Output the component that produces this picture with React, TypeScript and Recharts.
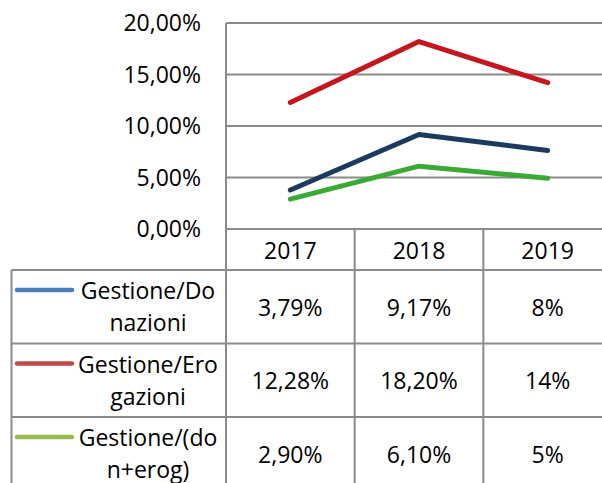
import React from 'react';
import { LineChart, Line, XAxis, YAxis, CartesianGrid } from 'recharts';

const years = ['2017', '2018', '2019'];
const donazioni = [3.79, 9.17, 7.63];
const erogazioni = [12.28, 18.2, 14.2];
const donErog = [2.9, 6.1, 4.93];
const donazioniLabels = ['3,79%', '9,17%', '8%'];
const erogazioniLabels = ['12,28%', '18,20%', '14%'];
const donErogLabels = ['2,90%', '6,10%', '5%'];
const yTicks = [0, 5, 10, 15, 20];

const series = [
  { key: 'donazioni', name: ['Gestione/Do', 'nazioni'], color: '#1b3a5e', legendColor: '#4a7ebb', labels: donazioniLabels },
  { key: 'erogazioni', name: ['Gestione/Ero', 'gazioni'], color: '#c4161c', legendColor: '#be4b48', labels: erogazioniLabels },
  { key: 'donErog', name: ['Gestione/(do', 'n+erog)'], color: '#3aaa35', legendColor: '#98b954', labels: donErogLabels },
];

const data = years.map((year, i) => ({
  year,
  donazioni: donazioni[i],
  erogazioni: erogazioni[i],
  donErog: donErog[i],
}));

const FONT = "'Open Sans', sans-serif";
const FS = 23;
const GRID = '#8a8a8a';
const PLOT_LEFT = 226;
const HEADER_H = 41;
const ROW_H = 73.5;
const TABLE_LEFT = 11.5;

function TableTick(props: any) {
  const { x, y, index } = props;
  const band = (x - PLOT_LEFT) / (index + 0.5);
  const l = x - band / 2;
  const r = x + band / 2;
  const bottom = y + HEADER_H + ROW_H * series.length;
  const els: any[] = [];
  els.push(<line key="vl" x1={l} x2={l} y1={y} y2={bottom} stroke={GRID} strokeWidth={2} />);
  if (index === years.length - 1) {
    els.push(<line key="vr" x1={r} x2={r} y1={y} y2={bottom} stroke={GRID} strokeWidth={2} />);
  }
  for (let i = 0; i <= series.length; i++) {
    const yy = y + HEADER_H + ROW_H * i;
    els.push(<line key={'h' + i} x1={l} x2={r} y1={yy} y2={yy} stroke={GRID} strokeWidth={2} />);
  }
  els.push(
    <text key="yr" x={x} y={y + HEADER_H / 2} textAnchor="middle" dominantBaseline="central" fontSize={FS} fontFamily={FONT} fill="#000">
      {years[index]}
    </text>
  );
  series.forEach((s, i) => {
    els.push(
      <text key={'v' + i} x={x} y={y + HEADER_H + ROW_H * (i + 0.5)} textAnchor="middle" dominantBaseline="central" fontSize={FS} fontFamily={FONT} fill="#000">
        {s.labels[index]}
      </text>
    );
  });
  if (index === 0) {
    els.push(<line key="ll" x1={TABLE_LEFT} x2={TABLE_LEFT} y1={y + HEADER_H} y2={bottom} stroke={GRID} strokeWidth={2} />);
    for (let i = 0; i <= series.length; i++) {
      const yy = y + HEADER_H + ROW_H * i;
      els.push(<line key={'lh' + i} x1={TABLE_LEFT} x2={l} y1={yy} y2={yy} stroke={GRID} strokeWidth={2} />);
    }
    series.forEach((s, i) => {
      const top = y + HEADER_H + ROW_H * i;
      els.push(<line key={'m' + i} x1={17} x2={72} y1={top + 20} y2={top + 20} stroke={s.legendColor} strokeWidth={4.5} strokeLinecap="round" />);
      els.push(
        <text key={'n1' + i} x={148} y={top + 20} textAnchor="middle" dominantBaseline="central" fontSize={FS} fontFamily={FONT} fill="#000">
          {s.name[0]}
        </text>
      );
      els.push(
        <text key={'n2' + i} x={148} y={top + 52} textAnchor="middle" dominantBaseline="central" fontSize={FS} fontFamily={FONT} fill="#000">
          {s.name[1]}
        </text>
      );
    });
  }
  return <g>{els}</g>;
}

const fmt = (v: number) => v.toFixed(2).replace('.', ',') + '%';

export default function App() {
  return (
    <div style={{ position: 'fixed', left: 0, top: 0, width: 602, height: 483, overflow: 'hidden', background: '#fff' }}>
      <LineChart width={620} height={500} data={data} margin={{ top: 23, right: 8, left: 0, bottom: 0 }}>
        <CartesianGrid horizontal vertical={false} stroke={GRID} strokeWidth={2} />
        <XAxis
          dataKey="year"
          scale="band"
          height={271}
          axisLine={{ stroke: GRID, strokeWidth: 2 }}
          tickLine={false}
          tickSize={0}
          tickMargin={0}
          interval={0}
          tick={<TableTick />}
        />
        <YAxis
          width={PLOT_LEFT}
          domain={[0, 20]}
          ticks={yTicks}
          tickFormatter={fmt}
          axisLine={{ stroke: GRID, strokeWidth: 2 }}
          tickLine={false}
          tickSize={0}
          tickMargin={25}
          tick={{ fontSize: FS, fontFamily: FONT, fill: '#000' }}
        />
        {series.map((s) => (
          <Line
            key={s.key}
            dataKey={s.key}
            stroke={s.color}
            strokeWidth={5}
            strokeLinecap="round"
            strokeLinejoin="round"
            dot={false}
            activeDot={false}
            isAnimationActive={false}
          />
        ))}
      </LineChart>
    </div>
  );
}
